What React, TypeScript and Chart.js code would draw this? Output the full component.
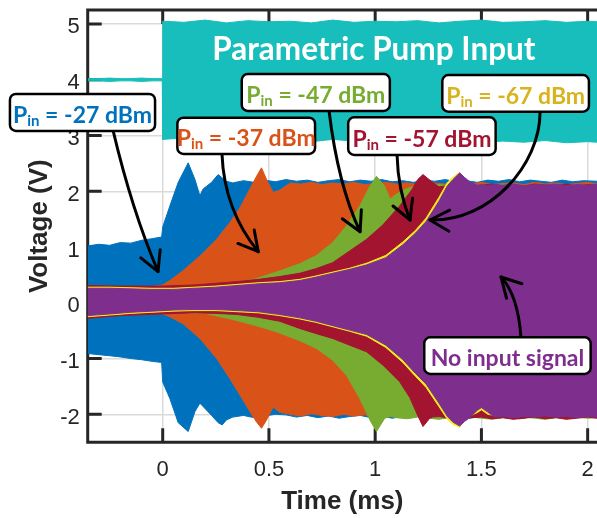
import React, { useEffect, useRef } from "react";
import { Chart, registerables } from "chart.js";

Chart.register(...registerables);

// ---- Axes ----
const xLimits = [-0.353, 2.044];
const yLimits = [-2.502, 5.251];
const xTicks = [0, 0.5, 1, 1.5, 2];
const yTicks = [-2, -1, 0, 1, 2, 3, 4, 5];
const xTickLabels = ["0", "0.5", "1", "1.5", "2"];
const yTickLabels = ["-2", "-1", "0", "1", "2", "3", "4", "5"];
const xTitle = "Time (ms)";
const yTitle = "Voltage (V)";

// ---- Parametric pump input (cyan envelope) ----
const pumpTime = [-0.353, -0.3, -0.25, -0.2, -0.15, -0.1, -0.05, -0.002, 0, 0.1, 0.2, 0.3, 0.4, 0.5, 0.6, 0.7, 0.8, 0.9, 1.0, 1.1, 1.2, 1.3, 1.4, 1.5, 1.6, 1.7, 1.8, 1.9, 2.0, 2.044];
const pumpHigh = [4.02, 4.02, 4.03, 4.02, 4.02, 4.03, 4.02, 4.02, 5.05, 5.03, 5.07, 5.02, 5.06, 5.04, 5.05, 5.02, 5.07, 5.03, 5.05, 5.04, 5.06, 5.02, 5.05, 5.07, 5.03, 5.04, 5.06, 5.03, 5.05, 5.04];
const pumpLow = [3.98, 3.98, 3.97, 3.98, 3.98, 3.97, 3.98, 3.98, 2.93, 2.96, 2.9, 2.94, 2.91, 2.95, 2.92, 2.89, 2.93, 2.9, 2.92, 2.88, 2.91, 2.89, 2.92, 2.87, 2.9, 2.88, 2.91, 2.87, 2.89, 2.88];

// ---- Pin = -27 dBm (blue envelope) ----
const blueTime = [-0.353, -0.3, -0.25, -0.2, -0.15, -0.1, -0.05, -0.005, 0, 0.034, 0.073, 0.12, 0.152, 0.175, 0.19, 0.23, 0.261, 0.28, 0.3, 0.33, 0.38, 0.43, 0.48, 0.53, 0.58, 0.63, 0.68, 0.73, 0.78, 0.83, 0.88, 0.93, 0.98, 1.03, 1.08, 1.13, 1.18, 1.23, 1.28, 1.33, 1.38, 1.43, 1.48, 1.53, 1.58, 1.63, 1.68, 1.73, 1.78, 1.83, 1.88, 1.93, 1.98, 2.044];
const blueHigh = [1.02, 1.05, 1.03, 1.08, 1.07, 1.12, 1.15, 1.18, 1.36, 1.74, 2.16, 2.51, 2.21, 1.92, 2.04, 2.16, 2.3, 2.24, 2.18, 2.15, 2.19, 2.16, 2.2, 2.17, 2.21, 2.18, 2.2, 2.16, 2.19, 2.21, 2.17, 2.2, 2.18, 2.21, 2.17, 2.19, 2.16, 2.2, 2.18, 2.21, 2.17, 2.19, 2.16, 2.2, 2.18, 2.21, 2.17, 2.2, 2.18, 2.16, 2.2, 2.17, 2.19, 2.18];
const blueLow = [-0.91, -0.93, -0.95, -0.97, -1.0, -1.02, -1.05, -1.07, -1.42, -1.72, -2.15, -2.31, -1.95, -1.8, -1.86, -2.02, -2.15, -2.19, -2.1, -2.05, -2.02, -2.06, -2.03, -2.0, -2.01, -2.05, -2.02, -2.06, -2.03, -2.07, -2.04, -2.02, -2.06, -2.03, -2.07, -2.04, -2.02, -2.06, -2.03, -2.07, -2.04, -2.08, -2.05, -2.03, -2.07, -2.04, -2.08, -2.05, -2.03, -2.07, -2.04, -2.06, -2.05, -2.06];

// ---- Pin = -37 dBm (orange envelope) ----
const orangeTime = [-0.353, -0.2, -0.05, 0, 0.034, 0.097, 0.175, 0.254, 0.316, 0.363, 0.41, 0.442, 0.465, 0.489, 0.52, 0.55, 0.6, 0.65, 0.7, 0.75, 0.8, 0.85, 0.9, 0.95, 1.0, 1.05, 1.1, 1.15, 1.2, 1.25, 1.3, 1.35, 1.4, 1.45, 1.5, 1.55, 1.6, 1.65, 1.7, 1.75, 1.8, 1.85, 1.9, 1.95, 2.0, 2.044];
const orangeHigh = [0.29, 0.28, 0.29, 0.32, 0.4, 0.58, 0.84, 1.14, 1.44, 1.7, 2.04, 2.27, 2.42, 2.21, 1.98, 2.02, 2.15, 2.13, 2.16, 2.12, 2.15, 2.13, 2.16, 2.12, 2.14, 2.16, 2.13, 2.15, 2.12, 2.16, 2.14, 2.12, 2.15, 2.13, 2.16, 2.12, 2.14, 2.15, 2.12, 2.16, 2.13, 2.15, 2.12, 2.14, 2.16, 2.13];
const orangeLow = [-0.25, -0.19, -0.18, -0.2, -0.25, -0.38, -0.64, -1.0, -1.36, -1.65, -1.95, -2.14, -2.25, -2.1, -1.87, -1.96, -2.0, -2.03, -1.99, -2.02, -2.04, -2.0, -2.03, -2.01, -2.04, -2.02, -2.0, -2.03, -2.01, -2.04, -2.02, -2.0, -2.03, -2.01, -2.04, -2.02, -2.0, -2.03, -2.01, -2.04, -2.02, -2.0, -2.03, -2.01, -2.04, -2.02];

// ---- Pin = -47 dBm (green envelope) ----
const greenTime = [-0.353, -0.2, 0, 0.2, 0.33, 0.43, 0.535, 0.645, 0.724, 0.8, 0.865, 0.928, 0.975, 1.006, 1.045, 1.07, 1.1, 1.15, 1.2, 1.25, 1.3, 1.35, 1.4, 1.45, 1.5, 1.55, 1.6, 1.65, 1.7, 1.75, 1.8, 1.85, 1.9, 1.95, 2.0, 2.044];
const greenHigh = [0.28, 0.27, 0.28, 0.32, 0.36, 0.42, 0.55, 0.7, 0.85, 1.08, 1.38, 1.74, 2.09, 2.27, 2.09, 1.86, 1.95, 2.05, 2.1, 2.08, 2.12, 2.1, 2.13, 2.09, 2.12, 2.1, 2.13, 2.11, 2.09, 2.12, 2.1, 2.13, 2.11, 2.09, 2.12, 2.1];
const greenLow = [-0.24, -0.19, -0.17, -0.19, -0.3, -0.4, -0.52, -0.68, -0.82, -1.03, -1.3, -1.72, -2.1, -2.31, -2.07, -2.04, -2.06, -2.08, -2.05, -2.07, -2.09, -2.06, -2.08, -2.05, -2.07, -2.09, -2.06, -2.08, -2.05, -2.07, -2.09, -2.06, -2.08, -2.05, -2.07, -2.06];

// ---- Pin = -57 dBm (dark red envelope) ----
const redTime = [-0.353, -0.2, 0, 0.15, 0.25, 0.35, 0.45, 0.55, 0.645, 0.72, 0.8, 0.88, 0.96, 1.037, 1.053, 1.116, 1.163, 1.178, 1.2, 1.225, 1.257, 1.27, 1.3, 1.35, 1.4, 1.45, 1.5, 1.55, 1.6, 1.65, 1.7, 1.75, 1.8, 1.85, 1.9, 1.95, 2.0, 2.044];
const redHigh = [0.31, 0.3, 0.3, 0.32, 0.35, 0.38, 0.42, 0.47, 0.53, 0.61, 0.72, 0.93, 1.14, 1.4, 1.47, 1.74, 1.98, 2.06, 2.21, 2.3, 2.2, 2.16, 2.08, 2.1, 2.13, 2.08, 2.11, 2.13, 2.1, 2.12, 2.09, 2.13, 2.11, 2.1, 2.13, 2.09, 2.12, 2.11];
const redLow = [-0.28, -0.23, -0.2, -0.18, -0.19, -0.21, -0.26, -0.33, -0.46, -0.55, -0.64, -0.76, -0.88, -1.12, -1.18, -1.42, -1.7, -1.83, -2.02, -2.22, -2.07, -2.05, -2.04, -2.07, -2.09, -2.06, -2.05, -2.08, -2.06, -2.09, -2.07, -2.05, -2.08, -2.06, -2.09, -2.07, -2.05, -2.07];

// ---- Pin = -67 dBm (yellow envelope) and no input signal (purple envelope) ----
const purpleTime = [-0.353, -0.25, -0.15, -0.05, 0.05, 0.15, 0.25, 0.35, 0.45, 0.55, 0.645, 0.72, 0.8, 0.88, 0.96, 1.05, 1.13, 1.19, 1.24, 1.3, 1.34, 1.366, 1.398, 1.42, 1.445, 1.48, 1.5, 1.53, 1.56, 1.6, 1.65, 1.7, 1.75, 1.8, 1.85, 1.9, 1.95, 2.0, 2.044];
const yellowHigh = [0.28, 0.28, 0.27, 0.26, 0.26, 0.28, 0.3, 0.33, 0.36, 0.38, 0.42, 0.48, 0.55, 0.62, 0.71, 0.85, 1.09, 1.3, 1.52, 1.89, 2.16, 2.25, 2.34, 2.21, 2.12, 2.07, 2.08, 2.06, 2.08, 2.07, 2.09, 2.06, 2.08, 2.07, 2.09, 2.06, 2.08, 2.07, 2.08];
const yellowLow = [-0.25, -0.22, -0.19, -0.17, -0.15, -0.14, -0.14, -0.16, -0.18, -0.23, -0.29, -0.35, -0.43, -0.51, -0.6, -0.8, -1.07, -1.32, -1.52, -1.86, -2.09, -2.18, -2.23, -2.1, -2.03, -1.97, -1.92, -2.0, -2.02, -2.01, -2.03, -2.01, -2.02, -2.0, -2.02, -2.01, -2.03, -2.01, -2.02];
const purpleHigh = [0.26, 0.26, 0.25, 0.24, 0.24, 0.26, 0.28, 0.31, 0.34, 0.36, 0.4, 0.46, 0.53, 0.6, 0.68, 0.81, 1.04, 1.25, 1.46, 1.82, 2.1, 2.21, 2.33, 2.25, 2.17, 2.11, 2.12, 2.1, 2.12, 2.11, 2.13, 2.1, 2.12, 2.11, 2.13, 2.1, 2.12, 2.11, 2.12];
const purpleLow = [-0.23, -0.2, -0.17, -0.15, -0.13, -0.12, -0.12, -0.14, -0.16, -0.21, -0.27, -0.33, -0.41, -0.49, -0.57, -0.76, -1.02, -1.27, -1.46, -1.8, -2.04, -2.14, -2.21, -2.13, -2.06, -1.93, -1.88, -1.96, -2.05, -2.04, -2.06, -2.04, -2.05, -2.03, -2.05, -2.04, -2.06, -2.04, -2.05];

// drawn top-most first
const series = [
  { name: "No input signal", color: "#7E2F8E", time: purpleTime, high: purpleHigh, low: purpleLow },
  { name: "-67 dBm", color: "#F2EE1C", time: purpleTime, high: yellowHigh, low: yellowLow },
  { name: "-57 dBm", color: "#A2142F", time: redTime, high: redHigh, low: redLow },
  { name: "-47 dBm", color: "#77AC30", time: greenTime, high: greenHigh, low: greenLow },
  { name: "-37 dBm", color: "#D95319", time: orangeTime, high: orangeHigh, low: orangeLow },
  { name: "-27 dBm", color: "#0072BD", time: blueTime, high: blueHigh, low: blueLow },
  { name: "Pump", color: "#17BEBB", time: pumpTime, high: pumpHigh, low: pumpLow },
];

// ---- Annotations (in data coordinates) ----
const noteBoxes = [
  { parts: ["P", "in", " = -27 dBm"], color: "#0072BD", t0: -0.719, t1: -0.036, vTop: 3.745, vBot: 3.081 },
  { parts: ["P", "in", " = -37 dBm"], color: "#D95319", t0: 0.069, t1: 0.717, vTop: 3.32, vBot: 2.669 },
  { parts: ["P", "in", " = -47 dBm"], color: "#77AC30", t0: 0.372, t1: 1.069, vTop: 4.103, vBot: 3.44 },
  { parts: ["P", "in", " = -57 dBm"], color: "#A2142F", t0: 0.873, t1: 1.567, vTop: 3.327, vBot: 2.651 },
  { parts: ["P", "in", " = -67 dBm"], color: "#D9B31E", t0: 1.316, t1: 2.006, vTop: 4.085, vBot: 3.427 },
  { parts: ["No input signal", "", ""], color: "#7E2F8E", t0: 1.231, t1: 2.014, vTop: -0.619, vBot: -1.277 },
];
const noteArrows = [
  [[-0.233, 3.081], [-0.145, 1.664], [-0.022, 0.56]],
  [[0.279, 2.669], [0.289, 1.664], [0.45, 0.916]],
  [[0.783, 3.44], [0.825, 2.113], [0.929, 1.275]],
  [[1.103, 2.651], [1.107, 2.023], [1.164, 1.485]],
  [[1.776, 3.422], [1.776, 2.471], [1.54, 1.449], [1.258, 1.485]],
  [[1.686, -0.615], [1.672, 0.14], [1.592, 0.463]],
];
const pumpText = { text: "Parametric Pump Input", t: 0.994, v: 4.349 };

const AXIS_COLOR = "#262626";

function roundRectPath(ctx: CanvasRenderingContext2D, x: number, y: number, w: number, h: number, r: number) {
  ctx.beginPath();
  ctx.moveTo(x + r, y);
  ctx.lineTo(x + w - r, y);
  ctx.arcTo(x + w, y, x + w, y + r, r);
  ctx.lineTo(x + w, y + h - r);
  ctx.arcTo(x + w, y + h, x + w - r, y + h, r);
  ctx.lineTo(x + r, y + h);
  ctx.arcTo(x, y + h, x, y + h - r, r);
  ctx.lineTo(x, y + r);
  ctx.arcTo(x, y, x + r, y, r);
  ctx.closePath();
}

const axesPlugin = {
  id: "axesBox",
  beforeDatasetsDraw(chart: any) {
    const { ctx, chartArea: a, scales } = chart;
    const xs = scales.x, ys = scales.y;
    ctx.save();
    ctx.strokeStyle = AXIS_COLOR;
    ctx.lineWidth = 3;
    ctx.beginPath();
    ctx.moveTo(a.right + 5, a.top);
    ctx.lineTo(a.left, a.top);
    ctx.lineTo(a.left, a.bottom);
    ctx.lineTo(a.right + 5, a.bottom);
    const tl = 14;
    xTicks.forEach((v) => {
      const px = xs.getPixelForValue(v);
      ctx.moveTo(px, a.bottom);
      ctx.lineTo(px, a.bottom - tl);
      ctx.moveTo(px, a.top);
      ctx.lineTo(px, a.top + tl);
    });
    yTicks.forEach((v) => {
      const py = ys.getPixelForValue(v);
      ctx.moveTo(a.left, py);
      ctx.lineTo(a.left + tl, py);
    });
    ctx.stroke();
    ctx.restore();
  },
  afterDraw(chart: any) {
    const { ctx, chartArea: a, scales } = chart;
    const xs = scales.x, ys = scales.y;
    ctx.save();
    // tick labels
    ctx.fillStyle = AXIS_COLOR;
    ctx.font = '22px "Liberation Sans", Arial, sans-serif';
    ctx.textBaseline = "alphabetic";
    ctx.textAlign = "center";
    xTicks.forEach((v, i) => ctx.fillText(xTickLabels[i], xs.getPixelForValue(v), a.bottom + 34));
    ctx.textAlign = "right";
    yTicks.forEach((v, i) => ctx.fillText(yTickLabels[i], a.left - 8, ys.getPixelForValue(v) + 9.5));
    // axis titles
    ctx.font = 'bold 26px "Liberation Sans", Arial, sans-serif';
    ctx.textAlign = "center";
    ctx.fillText(xTitle, (a.left + a.right) / 2, a.bottom + 67);
    ctx.save();
    ctx.translate(a.left - 41, (a.top + a.bottom) / 2);
    ctx.rotate(-Math.PI / 2);
    ctx.fillText(yTitle, 0, 0);
    ctx.restore();

    // pump label
    ctx.fillStyle = "#ffffff";
    ctx.font = "bold 31.5px Lato, sans-serif";
    ctx.textAlign = "center";
    ctx.fillText(pumpText.text, xs.getPixelForValue(pumpText.t), ys.getPixelForValue(pumpText.v));

    // arrows
    ctx.strokeStyle = "#000000";
    ctx.lineWidth = 3;
    ctx.lineCap = "round";
    ctx.lineJoin = "round";
    noteArrows.forEach((pts) => {
      const p = pts.map(([t, v]) => [xs.getPixelForValue(t), ys.getPixelForValue(v)]);
      ctx.beginPath();
      ctx.moveTo(p[0][0], p[0][1]);
      if (p.length === 3) ctx.quadraticCurveTo(p[1][0], p[1][1], p[2][0], p[2][1]);
      else ctx.bezierCurveTo(p[1][0], p[1][1], p[2][0], p[2][1], p[3][0], p[3][1]);
      ctx.stroke();
      const end = p[p.length - 1];
      const prev = p[p.length - 2];
      const ang = Math.atan2(end[1] - prev[1], end[0] - prev[0]);
      const L = 22, h = 0.5;
      ctx.beginPath();
      ctx.moveTo(end[0] + L * Math.cos(ang + Math.PI - h), end[1] + L * Math.sin(ang + Math.PI - h));
      ctx.lineTo(end[0], end[1]);
      ctx.lineTo(end[0] + L * Math.cos(ang + Math.PI + h), end[1] + L * Math.sin(ang + Math.PI + h));
      ctx.stroke();
    });

    // boxes
    noteBoxes.forEach((b) => {
      const x0 = xs.getPixelForValue(b.t0), x1 = xs.getPixelForValue(b.t1);
      const y0 = ys.getPixelForValue(b.vTop), y1 = ys.getPixelForValue(b.vBot);
      roundRectPath(ctx, x0, y0, x1 - x0, y1 - y0, 6);
      ctx.fillStyle = "#ffffff";
      ctx.fill();
      ctx.lineWidth = 2.5;
      ctx.strokeStyle = "#000000";
      ctx.stroke();
      const mainFont = "bold 23px Lato, sans-serif";
      const subFont = "bold 15px Lato, sans-serif";
      ctx.font = mainFont;
      const w0 = ctx.measureText(b.parts[0]).width;
      const w2 = ctx.measureText(b.parts[2]).width;
      ctx.font = subFont;
      const w1 = b.parts[1] ? ctx.measureText(b.parts[1]).width : 0;
      const total = w0 + w1 + w2;
      let x = (x0 + x1) / 2 - total / 2;
      const base = y1 - 8;
      ctx.fillStyle = b.color;
      ctx.textAlign = "left";
      ctx.font = mainFont;
      ctx.fillText(b.parts[0], x, base);
      x += w0;
      if (b.parts[1]) {
        ctx.font = subFont;
        ctx.fillText(b.parts[1], x, base + 3);
        x += w1;
      }
      ctx.font = mainFont;
      ctx.fillText(b.parts[2], x, base);
    });
    ctx.restore();
  },
};

function buildDatasets() {
  const ds: any[] = [];
  series.forEach((s, i) => {
    const hi = s.time.map((t, k) => ({ x: t, y: s.high[k] }));
    const lo = s.time.map((t, k) => ({ x: t, y: s.low[k] }));
    ds.push({
      label: s.name,
      data: hi,
      fill: "+1",
      backgroundColor: s.color,
      borderColor: s.color,
      borderWidth: 1,
      pointRadius: 0,
      tension: 0,
      order: i,
    });
    ds.push({
      label: s.name + " low",
      data: lo,
      fill: false,
      backgroundColor: s.color,
      borderColor: s.color,
      borderWidth: 1,
      pointRadius: 0,
      tension: 0,
      order: i,
    });
  });
  return ds;
}

export default function App() {
  const ref = useRef<HTMLCanvasElement>(null);
  useEffect(() => {
    const canvas = ref.current;
    if (!canvas) return;
    const chart = new Chart(canvas, {
      type: "line",
      data: { datasets: buildDatasets() },
      options: {
        responsive: false,
        animation: false,
        devicePixelRatio: 1,
        events: [],
        layout: { padding: { top: 10, right: 0, bottom: 0, left: 0 } },
        plugins: {
          legend: { display: false },
          tooltip: { enabled: false },
          title: { display: false },
        },
        scales: {
          x: {
            type: "linear",
            min: xLimits[0],
            max: xLimits[1],
            afterBuildTicks: (s: any) => {
              s.ticks = xTicks.map((v) => ({ value: v }));
            },
            afterFit: (s: any) => {
              s.height = 75.7;
            },
            ticks: { display: false },
            grid: { color: "#dadada", lineWidth: 1.5, drawTicks: false },
            border: { display: false },
          },
          y: {
            type: "linear",
            min: yLimits[0],
            max: yLimits[1],
            afterBuildTicks: (s: any) => {
              s.ticks = yTicks.map((v) => ({ value: v }));
            },
            afterFit: (s: any) => {
              s.width = 87.7;
            },
            ticks: { display: false },
            grid: { color: "#dadada", lineWidth: 1.5, drawTicks: false },
            border: { display: false },
          },
        },
      } as any,
      plugins: [axesPlugin],
    });
    return () => chart.destroy();
  }, []);
  return (
    <div style={{ position: "absolute", left: 0, top: 0, width: 597, height: 518, background: "#ffffff" }}>
      <canvas ref={ref} width={597} height={518} style={{ display: "block", width: 597, height: 518 }} />
    </div>
  );
}
